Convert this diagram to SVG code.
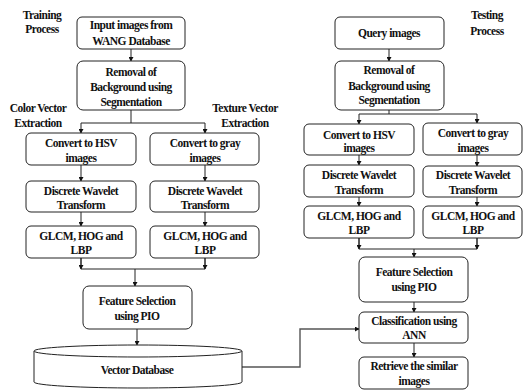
<svg xmlns="http://www.w3.org/2000/svg" width="523" height="391" viewBox="0 0 523 391">
<defs>
<marker id="ah" markerWidth="5" markerHeight="5" refX="4" refY="2.5" orient="auto" markerUnits="userSpaceOnUse">
<path d="M0,0 L4.5,2.5 L0,5 Z" fill="#111"/>
</marker>
</defs>
<style>
.box{fill:#fff;stroke:#222;stroke-width:1}
text{font-family:'Liberation Serif','Times New Roman',serif;font-weight:bold;font-size:11.5px;letter-spacing:-0.5px;fill:#111;text-anchor:middle}
.c{fill:none;stroke:#222;stroke-width:1}
.a{fill:none;stroke:#222;stroke-width:1;marker-end:url(#ah)}
.g{fill:none;stroke:#555;stroke-width:1.4;marker-end:url(#ah)}
</style>
<rect width="523" height="391" fill="#fff"/>

<g id="labels">
<text x="42" y="19">Training</text>
<text x="42" y="33">Process</text>
<text x="38" y="112">Color Vector</text>
<text x="38" y="127">Extraction</text>
<text x="245" y="112">Texture Vector</text>
<text x="245" y="127">Extraction</text>
<text x="487" y="19">Testing</text>
<text x="487" y="35">Process</text>
</g>

<g id="connectors">
<path class="a" d="M131,49 V61"/>
<path class="c" d="M131,110 V123"/>
<path class="c" d="M81,123 H205"/>
<path class="a" d="M81,123 V133"/>
<path class="a" d="M205,123 V133"/>
<path class="a" d="M81,165 V181"/>
<path class="a" d="M205,165 V181"/>
<path class="a" d="M81,212 V226"/>
<path class="a" d="M205,212 V226"/>
<path class="c" d="M81,258 V269 H205 V258"/>
<path class="a" d="M81,258 V269"/>
<path class="a" d="M205,258 V269"/>
<path class="a" d="M135,269 V286"/>
<path class="a" d="M137,329 V345"/>

<path class="a" d="M389,49 V61"/>
<path class="c" d="M389,110 V114"/>
<path class="c" d="M359,114 H477"/>
<path class="a" d="M359,114 V124"/>
<path class="a" d="M477,114 V123"/>
<path class="a" d="M359,155 V165"/>
<path class="a" d="M477,155 V166"/>
<path class="a" d="M359,197 V206"/>
<path class="a" d="M477,197 V206"/>
<path class="c" d="M359,238 V249 H477 V238"/>
<path class="a" d="M359,238 V249"/>
<path class="a" d="M477,238 V249"/>
<path class="a" d="M414,249 V257"/>
<path class="a" d="M414,302 V312"/>
<path class="a" d="M414,343 V357"/>
<path class="g" d="M242,367 H300 V329 H359"/>
</g>

<g id="n-input"><rect class="box" x="77" y="17" width="108" height="32" rx="5"/>
<text x="131" y="29">Input images from</text><text x="131" y="45">WANG Database</text></g>
<g id="n-removal-train"><rect class="box" x="77" y="61" width="108" height="49" rx="6"/>
<text x="131" y="76">Removal of</text><text x="131" y="91">Background using</text><text x="131" y="106">Segmentation</text></g>
<g id="n-hsv-train"><rect class="box" x="26" y="133" width="110" height="32" rx="5"/>
<text x="81" y="147">Convert to HSV</text><text x="81" y="162">images</text></g>
<g id="n-gray-train"><rect class="box" x="150" y="133" width="109" height="32" rx="5"/>
<text x="205" y="147">Convert to gray</text><text x="205" y="162">images</text></g>
<g id="n-dwt-train-l"><rect class="box" x="26" y="181" width="110" height="31" rx="5"/>
<text x="81" y="195">Discrete Wavelet</text><text x="81" y="209">Transform</text></g>
<g id="n-dwt-train-r"><rect class="box" x="150" y="181" width="109" height="31" rx="5"/>
<text x="205" y="195">Discrete Wavelet</text><text x="205" y="209">Transform</text></g>
<g id="n-glcm-train-l"><rect class="box" x="26" y="226" width="110" height="32" rx="5"/>
<text x="81" y="240">GLCM, HOG and</text><text x="81" y="254">LBP</text></g>
<g id="n-glcm-train-r"><rect class="box" x="150" y="226" width="109" height="32" rx="5"/>
<text x="205" y="240">GLCM, HOG and</text><text x="205" y="254">LBP</text></g>
<g id="n-fs-train"><rect class="box" x="83" y="286" width="109" height="43" rx="6"/>
<text x="137" y="305">Feature Selection</text><text x="137" y="320">using PIO</text></g>
<g id="n-vdb">
<path class="box" d="M34,351 V382 A104,6 0 0 0 242,382 V351"/>
<ellipse class="box" cx="138" cy="351" rx="104" ry="6"/>
<text x="137" y="374">Vector Database</text></g>

<g id="n-query"><rect class="box" x="335" y="17" width="109" height="32" rx="5"/>
<text x="389" y="37">Query images</text></g>
<g id="n-removal-test"><rect class="box" x="335" y="61" width="109" height="49" rx="6"/>
<text x="389" y="74">Removal of</text><text x="389" y="90">Background using</text><text x="389" y="104">Segmentation</text></g>
<g id="n-hsv-test"><rect class="box" x="304" y="124" width="110" height="31" rx="5"/>
<text x="359" y="139">Convert to HSV</text><text x="359" y="152">images</text></g>
<g id="n-gray-test"><rect class="box" x="423" y="123" width="99" height="32" rx="5"/>
<text x="473" y="137">Convert to gray</text><text x="473" y="152">images</text></g>
<g id="n-dwt-test-l"><rect class="box" x="304" y="165" width="110" height="32" rx="5"/>
<text x="359" y="179">Discrete Wavelet</text><text x="359" y="194">Transform</text></g>
<g id="n-dwt-test-r"><rect class="box" x="423" y="166" width="99" height="31" rx="5"/>
<text x="473" y="179">Discrete Wavelet</text><text x="473" y="194">Transform</text></g>
<g id="n-glcm-test-l"><rect class="box" x="304" y="206" width="110" height="32" rx="5"/>
<text x="359" y="220">GLCM, HOG and</text><text x="359" y="234">LBP</text></g>
<g id="n-glcm-test-r"><rect class="box" x="423" y="206" width="99" height="32" rx="5"/>
<text x="473" y="220">GLCM, HOG and</text><text x="473" y="234">LBP</text></g>
<g id="n-fs-test"><rect class="box" x="359" y="257" width="109" height="45" rx="6"/>
<text x="414" y="276">Feature Selection</text><text x="414" y="291">using PIO</text></g>
<g id="n-ann"><rect class="box" x="359" y="312" width="109" height="31" rx="5"/>
<text x="414" y="325">Classification using</text><text x="414" y="339">ANN</text></g>
<g id="n-retrieve"><rect class="box" x="359" y="357" width="109" height="32" rx="5"/>
<text x="414" y="370">Retrieve the similar</text><text x="414" y="385">images</text></g>
</svg>
